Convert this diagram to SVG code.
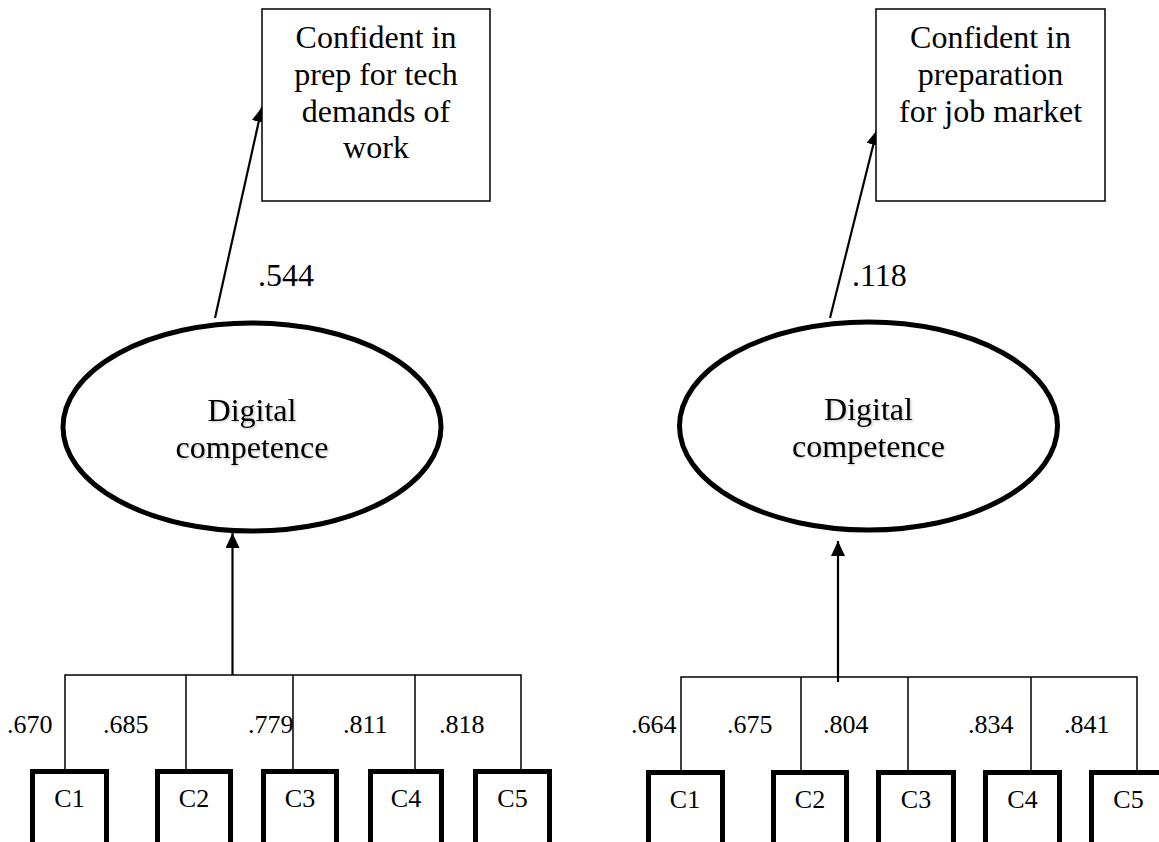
<svg xmlns="http://www.w3.org/2000/svg" width="1159" height="842" viewBox="0 0 1159 842" font-family="'Liberation Serif', 'DejaVu Serif', 'Times New Roman', serif">
<style>
text{font-family:'Liberation Serif','DejaVu Serif','Times New Roman',serif;fill:#000}
.big{font-size:32px}
.sm{font-size:26px}
.mid{text-anchor:middle}
.obs{fill:#fff;stroke:#000;stroke-width:1.5}
.ind{fill:#fff;stroke:#000;stroke-width:5}
.lat{fill:#fff;stroke:#000;stroke-width:5}
.thin{stroke:#000;stroke-width:1.5;fill:none}
.arr{stroke:#000;stroke-width:2.2;fill:none}
.shd{filter:url(#sh)}
</style>
<defs>
<marker id="ah" markerUnits="userSpaceOnUse" markerWidth="16" markerHeight="16" refX="15" refY="7" orient="auto"><path d="M0,0 L15,7 L0,14 z" fill="#000"/></marker>
<filter id="sh" x="-10%" y="-20%" width="130%" height="150%"><feDropShadow dx="1" dy="1.2" stdDeviation="1" flood-color="#000" flood-opacity="0.25"/></filter>
</defs>
<rect width="1159" height="842" fill="#fff"/>

<g id="connectors">
<line class="arr" x1="215" y1="318" x2="262" y2="107" marker-end="url(#ah)"/>
<line class="arr" x1="232.5" y1="675" x2="232.5" y2="533" marker-end="url(#ah)"/>
<path class="thin" d="M65,770 V675 H521 V770 M186,675 V770 M293,675 V770 M415,675 V770"/>
<line class="arr" x1="830" y1="318" x2="877" y2="130" marker-end="url(#ah)"/>
<line class="arr" x1="838" y1="682" x2="838" y2="541" stroke-width="3" marker-end="url(#ah)"/>
<path class="thin" d="M681,770 V677 H1137 V770 M801,677 V770 M908,677 V770 M1031,677 V770"/>
</g>

<g id="labels">
<text class="big" x="258" y="286">.544</text>
<text class="sm" x="7" y="733">.670</text>
<text class="sm" x="103" y="733">.685</text>
<text class="sm" x="248" y="733">.779</text>
<text class="sm" x="343" y="733">.811</text>
<text class="sm" x="439" y="733">.818</text>
<text class="big" x="852" y="286">.118</text>
<text class="sm" x="631" y="733">.664</text>
<text class="sm" x="727" y="733">.675</text>
<text class="sm" x="823" y="733">.804</text>
<text class="sm" x="968" y="733">.834</text>
<text class="sm" x="1064" y="733">.841</text>
</g>

<g id="outcome-left">
<rect class="obs" x="262" y="9" width="228" height="192"/>
<text class="big mid" x="376" y="48">Confident in</text>
<text class="big mid" x="376" y="85">prep for tech</text>
<text class="big mid" x="376" y="122">demands of</text>
<text class="big mid" x="376" y="158">work</text>
</g>
<g id="latent-left">
<ellipse class="lat" cx="252" cy="427" rx="189" ry="104"/>
<text class="big mid shd" x="252" y="421">Digital</text>
<text class="big mid shd" x="252" y="458">competence</text>
</g>
<g id="c1-left"><rect class="ind" x="32.5" y="771.5" width="74" height="100"/><text class="sm mid" x="69.5" y="807">C1</text></g>
<g id="c2-left"><rect class="ind" x="157.5" y="771.5" width="73" height="100"/><text class="sm mid" x="194" y="807">C2</text></g>
<g id="c3-left"><rect class="ind" x="263.5" y="771.5" width="73" height="100"/><text class="sm mid" x="300" y="807">C3</text></g>
<g id="c4-left"><rect class="ind" x="370.5" y="771.5" width="71" height="100"/><text class="sm mid" x="406" y="807">C4</text></g>
<g id="c5-left"><rect class="ind" x="475.5" y="771.5" width="74" height="100"/><text class="sm mid" x="512.5" y="807">C5</text></g>

<g id="outcome-right">
<rect class="obs" x="876" y="9" width="229" height="192"/>
<text class="big mid" x="990.5" y="48">Confident in</text>
<text class="big mid" x="990.5" y="85">preparation</text>
<text class="big mid" x="990.5" y="122">for job market</text>
</g>
<g id="latent-right">
<ellipse class="lat" cx="868.5" cy="426" rx="189" ry="104"/>
<text class="big mid shd" x="868.5" y="420">Digital</text>
<text class="big mid shd" x="868.5" y="457">competence</text>
</g>
<g id="c1-right"><rect class="ind" x="648.5" y="772.5" width="74" height="100"/><text class="sm mid" x="685" y="808">C1</text></g>
<g id="c2-right"><rect class="ind" x="773.5" y="772.5" width="73" height="100"/><text class="sm mid" x="810" y="808">C2</text></g>
<g id="c3-right"><rect class="ind" x="878.5" y="772.5" width="75" height="100"/><text class="sm mid" x="916" y="808">C3</text></g>
<g id="c4-right"><rect class="ind" x="985.5" y="772.5" width="74" height="100"/><text class="sm mid" x="1022.5" y="808">C4</text></g>
<g id="c5-right"><rect class="ind" x="1091.5" y="772.5" width="74" height="100"/><text class="sm mid" x="1128.5" y="808">C5</text></g>
</svg>
